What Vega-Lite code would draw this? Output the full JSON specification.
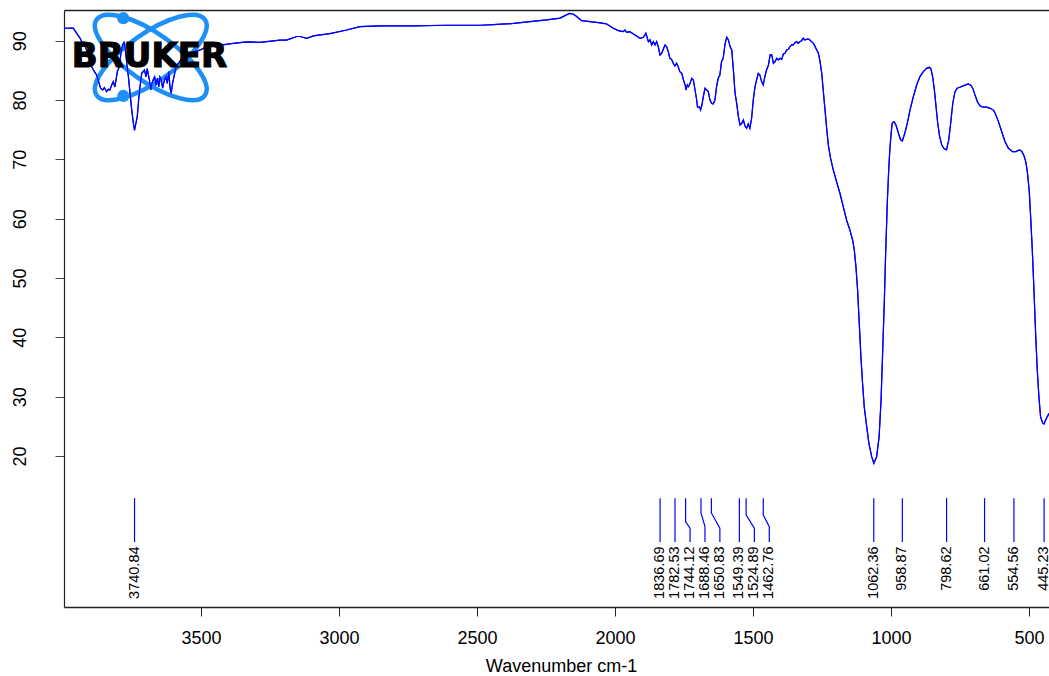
{
"$schema":"https://vega.github.io/schema/vega-lite/v6.json",
"width":985,"height":597,
"autosize":{"type":"none"},
"padding":{"left":64,"top":10,"right":0,"bottom":69},
"background":"white",
"config":{"view":{"stroke":null},"font":"Liberation Sans"},
"datasets":{
"spectrum":[
{"wn":3996,"T":92.09},{"wn":3963,"T":92.1},{"wn":3950,"T":91.24},{"wn":3938,"T":90.4},{"wn":3929,"T":89.56},{"wn":3924,"T":89.73},{"wn":3920,"T":89.0},{"wn":3914,"T":88.4},{"wn":3896,"T":85.6},{"wn":3890,"T":85.06},{"wn":3878,"T":84.2},{"wn":3869,"T":82.8},{"wn":3864,"T":81.98},{"wn":3856,"T":81.7},{"wn":3850,"T":82.1},{"wn":3842,"T":81.4},{"wn":3836,"T":81.8},{"wn":3830,"T":81.7},{"wn":3824,"T":82.5},{"wn":3818,"T":83.1},{"wn":3812,"T":82.2},{"wn":3808,"T":83.4},{"wn":3803,"T":84.8},{"wn":3796,"T":85.6},{"wn":3790,"T":87.9},{"wn":3784,"T":89.3},{"wn":3779,"T":89.7},{"wn":3774,"T":88.4},{"wn":3769,"T":86.2},{"wn":3763,"T":83.9},{"wn":3757,"T":81.1},{"wn":3751,"T":78.3},{"wn":3745,"T":76.1},{"wn":3741,"T":74.9},{"wn":3731,"T":77.2},{"wn":3726,"T":80.0},{"wn":3721,"T":82.2},{"wn":3715,"T":84.5},{"wn":3709,"T":84.8},{"wn":3705,"T":85.06},{"wn":3699,"T":83.9},{"wn":3695,"T":85.3},{"wn":3687,"T":83.4},{"wn":3682,"T":81.7},{"wn":3678,"T":82.8},{"wn":3673,"T":83.4},{"wn":3668,"T":83.9},{"wn":3663,"T":82.5},{"wn":3658,"T":83.7},{"wn":3653,"T":82.2},{"wn":3649,"T":83.9},{"wn":3644,"T":83.4},{"wn":3639,"T":82.0},{"wn":3634,"T":83.1},{"wn":3627,"T":83.9},{"wn":3622,"T":82.8},{"wn":3617,"T":84.8},{"wn":3612,"T":82.0},{"wn":3608,"T":81.1},{"wn":3603,"T":82.8},{"wn":3598,"T":83.9},{"wn":3593,"T":85.06},{"wn":3588,"T":85.9},{"wn":3581,"T":86.2},{"wn":3574,"T":86.7},{"wn":3566,"T":87.0},{"wn":3558,"T":87.3},{"wn":3552,"T":87.0},{"wn":3540,"T":87.9},{"wn":3528,"T":88.1},{"wn":3504,"T":88.4},{"wn":3480,"T":89.0},{"wn":3467,"T":89.27},{"wn":3455,"T":89.1},{"wn":3383,"T":89.56},{"wn":3334,"T":89.8},{"wn":3286,"T":89.73},{"wn":3214,"T":90.1},{"wn":3190,"T":90.1},{"wn":3153,"T":90.7},{"wn":3141,"T":90.7},{"wn":3117,"T":90.4},{"wn":3093,"T":90.8},{"wn":3033,"T":91.2},{"wn":2972,"T":91.8},{"wn":2924,"T":92.36},{"wn":2851,"T":92.5},{"wn":2731,"T":92.5},{"wn":2610,"T":92.6},{"wn":2489,"T":92.6},{"wn":2441,"T":92.7},{"wn":2368,"T":92.9},{"wn":2247,"T":93.5},{"wn":2199,"T":93.8},{"wn":2165,"T":94.6},{"wn":2152,"T":94.5},{"wn":2140,"T":94.1},{"wn":2121,"T":93.38},{"wn":2091,"T":93.21},{"wn":2060,"T":93.04},{"wn":2042,"T":92.93},{"wn":2030,"T":92.81},{"wn":2006,"T":92.08},{"wn":1988,"T":91.69},{"wn":1970,"T":91.52},{"wn":1964,"T":91.8},{"wn":1958,"T":91.41},{"wn":1946,"T":91.52},{"wn":1940,"T":91.35},{"wn":1922,"T":90.79},{"wn":1909,"T":90.4},{"wn":1897,"T":90.57},{"wn":1888,"T":91.24},{"wn":1879,"T":89.84},{"wn":1873,"T":90.12},{"wn":1867,"T":89.28},{"wn":1861,"T":89.84},{"wn":1855,"T":89.28},{"wn":1849,"T":89.84},{"wn":1843,"T":89.0},{"wn":1837,"T":87.59},{"wn":1831,"T":87.87},{"wn":1819,"T":89.28},{"wn":1813,"T":89.0},{"wn":1807,"T":88.15},{"wn":1801,"T":87.03},{"wn":1795,"T":86.86},{"wn":1789,"T":86.19},{"wn":1783,"T":85.74},{"wn":1777,"T":86.19},{"wn":1771,"T":85.62},{"wn":1765,"T":84.78},{"wn":1758,"T":84.5},{"wn":1752,"T":83.38},{"wn":1746,"T":82.53},{"wn":1743,"T":81.69},{"wn":1738,"T":82.53},{"wn":1734,"T":82.25},{"wn":1728,"T":82.81},{"wn":1722,"T":83.66},{"wn":1716,"T":83.38},{"wn":1710,"T":81.69},{"wn":1704,"T":80.0},{"wn":1701,"T":78.77},{"wn":1694,"T":78.88},{"wn":1690,"T":78.32},{"wn":1685,"T":79.16},{"wn":1680,"T":80.57},{"wn":1674,"T":81.97},{"wn":1668,"T":81.69},{"wn":1662,"T":81.41},{"wn":1656,"T":80.0},{"wn":1650,"T":79.44},{"wn":1644,"T":79.33},{"wn":1638,"T":80.0},{"wn":1632,"T":82.25},{"wn":1626,"T":83.66},{"wn":1620,"T":84.22},{"wn":1614,"T":86.47},{"wn":1608,"T":87.03},{"wn":1601,"T":89.56},{"wn":1595,"T":90.57},{"wn":1589,"T":90.12},{"wn":1583,"T":89.0},{"wn":1577,"T":88.43},{"wn":1571,"T":85.06},{"wn":1565,"T":81.13},{"wn":1559,"T":79.44},{"wn":1553,"T":77.2},{"wn":1547,"T":75.79},{"wn":1541,"T":76.07},{"wn":1535,"T":76.63},{"wn":1529,"T":75.62},{"wn":1523,"T":75.23},{"wn":1517,"T":75.96},{"wn":1511,"T":75.23},{"wn":1505,"T":76.92},{"wn":1499,"T":80.0},{"wn":1493,"T":82.14},{"wn":1487,"T":83.38},{"wn":1481,"T":84.5},{"wn":1475,"T":84.22},{"wn":1469,"T":83.1},{"wn":1463,"T":82.53},{"wn":1457,"T":83.94},{"wn":1451,"T":85.06},{"wn":1444,"T":85.9},{"wn":1438,"T":87.59},{"wn":1432,"T":87.59},{"wn":1426,"T":86.19},{"wn":1420,"T":86.47},{"wn":1414,"T":87.03},{"wn":1408,"T":86.75},{"wn":1402,"T":87.03},{"wn":1396,"T":86.86},{"wn":1390,"T":87.76},{"wn":1384,"T":87.87},{"wn":1378,"T":88.43},{"wn":1372,"T":88.54},{"wn":1366,"T":89.0},{"wn":1360,"T":89.28},{"wn":1354,"T":89.28},{"wn":1348,"T":89.67},{"wn":1342,"T":89.84},{"wn":1336,"T":89.56},{"wn":1330,"T":89.84},{"wn":1324,"T":90.0},{"wn":1318,"T":90.4},{"wn":1312,"T":90.12},{"wn":1306,"T":90.23},{"wn":1300,"T":90.3},{"wn":1294,"T":90.12},{"wn":1288,"T":89.84},{"wn":1281,"T":89.56},{"wn":1275,"T":89.0},{"wn":1269,"T":88.43},{"wn":1263,"T":87.87},{"wn":1257,"T":86.47},{"wn":1251,"T":84.5},{"wn":1245,"T":81.4},{"wn":1239,"T":78.3},{"wn":1233,"T":75.2},{"wn":1227,"T":72.4},{"wn":1219,"T":70.2},{"wn":1209,"T":68.2},{"wn":1197,"T":66.2},{"wn":1185,"T":64.28},{"wn":1173,"T":62.03},{"wn":1161,"T":59.78},{"wn":1149,"T":58.1},{"wn":1139,"T":56.41},{"wn":1133,"T":54.73},{"wn":1127,"T":51.92},{"wn":1121,"T":47.98},{"wn":1115,"T":42.37},{"wn":1109,"T":36.75},{"wn":1103,"T":32.25},{"wn":1097,"T":28.32},{"wn":1088,"T":24.95},{"wn":1080,"T":22.14},{"wn":1070,"T":19.89},{"wn":1062,"T":18.77},{"wn":1052,"T":19.89},{"wn":1043,"T":23.27},{"wn":1036,"T":29.45},{"wn":1030,"T":37.87},{"wn":1024,"T":46.3},{"wn":1019,"T":54.73},{"wn":1013,"T":63.15},{"wn":1008,"T":68.5},{"wn":1004,"T":71.8},{"wn":1001,"T":73.5},{"wn":996,"T":76.07},{"wn":989,"T":76.35},{"wn":982,"T":75.79},{"wn":973,"T":74.39},{"wn":965,"T":73.3},{"wn":959,"T":73.1},{"wn":950,"T":74.4},{"wn":941,"T":76.07},{"wn":931,"T":78.32},{"wn":919,"T":80.57},{"wn":907,"T":82.53},{"wn":895,"T":83.94},{"wn":883,"T":84.78},{"wn":871,"T":85.34},{"wn":861,"T":85.51},{"wn":855,"T":85.2},{"wn":849,"T":83.9},{"wn":843,"T":81.8},{"wn":837,"T":79.0},{"wn":831,"T":76.2},{"wn":824,"T":73.9},{"wn":816,"T":72.4},{"wn":808,"T":71.8},{"wn":799,"T":71.6},{"wn":791,"T":73.2},{"wn":784,"T":76.0},{"wn":776,"T":79.5},{"wn":768,"T":81.4},{"wn":760,"T":82.0},{"wn":748,"T":82.2},{"wn":732,"T":82.5},{"wn":720,"T":82.7},{"wn":711,"T":82.5},{"wn":704,"T":82.0},{"wn":696,"T":80.9},{"wn":687,"T":79.7},{"wn":677,"T":79.0},{"wn":666,"T":78.8},{"wn":653,"T":78.8},{"wn":641,"T":78.6},{"wn":629,"T":78.3},{"wn":623,"T":77.8},{"wn":611,"T":76.4},{"wn":599,"T":74.7},{"wn":587,"T":73.0},{"wn":575,"T":71.9},{"wn":560,"T":71.3},{"wn":547,"T":71.3},{"wn":535,"T":71.58},{"wn":527,"T":71.4},{"wn":518,"T":70.6},{"wn":511,"T":69.5},{"wn":505,"T":67.5},{"wn":499,"T":64.6},{"wn":494,"T":60.3},{"wn":488,"T":54.7},{"wn":482,"T":48.0},{"wn":476,"T":40.7},{"wn":470,"T":34.5},{"wn":464,"T":30.0},{"wn":458,"T":26.6},{"wn":450,"T":25.5},{"wn":445,"T":25.4},{"wn":442,"T":25.8},{"wn":434,"T":26.6},{"wn":427,"T":27.2}
],
"ticks":[
{"peak":"3740.84","s":0,"wn":3740.84,"y":12.9},{"peak":"3740.84","s":1,"wn":3740.84,"y":5.5},
{"peak":"1836.69","s":0,"wn":1836.69,"y":12.9},{"peak":"1836.69","s":1,"wn":1836.69,"y":5.5},
{"peak":"1782.53","s":0,"wn":1782.53,"y":12.9},{"peak":"1782.53","s":1,"wn":1782.53,"y":5.5},
{"peak":"1744.12","s":0,"wn":1744.12,"y":12.9},{"peak":"1744.12","s":1,"wn":1744.12,"y":8.9},{"peak":"1744.12","s":2,"wn":1728,"y":7.85},{"peak":"1744.12","s":3,"wn":1728,"y":5.5},
{"peak":"1688.46","s":0,"wn":1688.46,"y":12.9},{"peak":"1688.46","s":1,"wn":1688.46,"y":10.4},{"peak":"1688.46","s":2,"wn":1674,"y":8.1},{"peak":"1688.46","s":3,"wn":1674,"y":5.5},
{"peak":"1650.83","s":0,"wn":1650.83,"y":12.9},{"peak":"1650.83","s":1,"wn":1650.83,"y":10.4},{"peak":"1650.83","s":2,"wn":1620,"y":7.85},{"peak":"1650.83","s":3,"wn":1620,"y":5.5},
{"peak":"1549.39","s":0,"wn":1549.39,"y":12.9},{"peak":"1549.39","s":1,"wn":1549.39,"y":5.5},
{"peak":"1524.89","s":0,"wn":1524.89,"y":12.9},{"peak":"1524.89","s":1,"wn":1524.89,"y":10.05},{"peak":"1524.89","s":2,"wn":1495,"y":7.85},{"peak":"1524.89","s":3,"wn":1495,"y":5.5},
{"peak":"1462.76","s":0,"wn":1462.76,"y":12.9},{"peak":"1462.76","s":1,"wn":1462.76,"y":10.05},{"peak":"1462.76","s":2,"wn":1441,"y":8.1},{"peak":"1462.76","s":3,"wn":1441,"y":5.5},
{"peak":"1062.36","s":0,"wn":1062.36,"y":12.9},{"peak":"1062.36","s":1,"wn":1062.36,"y":5.5},
{"peak":"958.87","s":0,"wn":958.87,"y":12.9},{"peak":"958.87","s":1,"wn":958.87,"y":5.5},
{"peak":"798.62","s":0,"wn":798.62,"y":12.9},{"peak":"798.62","s":1,"wn":798.62,"y":5.5},
{"peak":"661.02","s":0,"wn":661.02,"y":12.9},{"peak":"661.02","s":1,"wn":661.02,"y":5.5},
{"peak":"554.56","s":0,"wn":554.56,"y":12.9},{"peak":"554.56","s":1,"wn":554.56,"y":5.5},
{"peak":"445.23","s":0,"wn":445.23,"y":12.9},{"peak":"445.23","s":1,"wn":445.23,"y":5.5}
],
"labels":[
{"label":"3740.84","pos":3740.84},{"label":"1836.69","pos":1836.69},{"label":"1782.53","pos":1782.53},{"label":"1744.12","pos":1728},{"label":"1688.46","pos":1674},{"label":"1650.83","pos":1620},{"label":"1549.39","pos":1549.39},{"label":"1524.89","pos":1495},{"label":"1462.76","pos":1441},{"label":"1062.36","pos":1062.36},{"label":"958.87","pos":958.87},{"label":"798.62","pos":798.62},{"label":"661.02","pos":661.02},{"label":"554.56","pos":554.56},{"label":"445.23","pos":445.23}
]
},
"resolve":{"axis":{"x":"independent"}},
"layer":[
{"data":{"name":"spectrum"},
 "mark":{"type":"line","color":"#0000ff","strokeWidth":1.2,"clip":true},
 "encoding":{"x":{"field":"wn","type":"quantitative","scale":{"domain":[427.5,3996.4],"reverse":true,"nice":false,"zero":false},
   "axis":{"orient":"bottom","values":[500,1000,1500,2000,2500,3000,3500],"format":"d","grid":false,"tickSize":9,"tickColor":"#222","domainColor":"#222","domainWidth":1.5,"labelFontSize":18,"labelColor":"black","labelPadding":13,"labelFlush":false,"title":"Wavenumber cm-1","titleFontSize":18,"titleFontWeight":"normal","titleColor":"black","titleX":497,"titleY":64,"titleAlign":"center","titleBaseline":"alphabetic"}},
  "y":{"field":"T","type":"quantitative","title":null,"scale":{"domain":[-5.45,95.17],"nice":false,"zero":false},
   "axis":{"values":[20,30,40,50,60,70,80,90],"grid":false,"tickSize":9,"tickColor":"#444","domainColor":"#222","domainWidth":1.2,"labelFontSize":18,"labelColor":"black","labelAngle":270,"labelAlign":"center","labelBaseline":"alphabetic","labelPadding":30,"title":null}}}},
{"data":{"values":[{"wn":3682,"T":87.17}]},
 "mark":{"type":"point","shape":"M0.966,0.677A1.179,0.4286,35,0,1,-0.966,-0.677A1.179,0.4286,35,0,1,0.966,0.677Z","size":12544,"filled":false,"stroke":"#1e8ff5","strokeWidth":4.5,"opacity":1},
 "encoding":{"x":{"field":"wn","type":"quantitative","scale":{"domain":[427.5,3996.4],"reverse":true,"nice":false,"zero":false},"axis":null},
  "y":{"field":"T","type":"quantitative","title":null,"scale":{"domain":[-5.45,95.17],"nice":false,"zero":false}}}},
{"data":{"values":[{"wn":3682,"T":87.17}]},
 "mark":{"type":"point","shape":"M0.966,-0.677A1.179,0.4286,-35,0,1,-0.966,0.677A1.179,0.4286,-35,0,1,0.966,-0.677Z","size":12544,"filled":false,"stroke":"#1e8ff5","strokeWidth":4.5,"opacity":1},
 "encoding":{"x":{"field":"wn","type":"quantitative","scale":{"domain":[427.5,3996.4],"reverse":true,"nice":false,"zero":false},"axis":null},
  "y":{"field":"T","type":"quantitative","title":null,"scale":{"domain":[-5.45,95.17],"nice":false,"zero":false}}}},
{"data":{"values":[{"wn":3781.5,"T":93.78},{"wn":3781.5,"T":80.68}]},
 "mark":{"type":"point","shape":"circle","size":150,"filled":true,"color":"#1e8ff5","opacity":1},
 "encoding":{"x":{"field":"wn","type":"quantitative","scale":{"domain":[427.5,3996.4],"reverse":true,"nice":false,"zero":false},"axis":null},
  "y":{"field":"T","type":"quantitative","title":null,"scale":{"domain":[-5.45,95.17],"nice":false,"zero":false}}}},
{"data":{"name":"spectrum"},
 "mark":{"type":"line","color":"#0000ff","strokeWidth":1.2,"clip":true},
 "encoding":{"x":{"field":"wn","type":"quantitative","scale":{"domain":[427.5,3996.4],"reverse":true,"nice":false,"zero":false},"axis":null},
  "y":{"field":"T","type":"quantitative","title":null,"scale":{"domain":[-5.45,95.17],"nice":false,"zero":false}}}},
{"data":{"name":"ticks"},
 "mark":{"type":"line","color":"#0000ff","strokeWidth":1.2},
 "encoding":{"x":{"field":"wn","type":"quantitative","scale":{"domain":[427.5,3996.4],"reverse":true,"nice":false,"zero":false},"axis":null},
  "y":{"field":"y","type":"quantitative","title":null,"scale":{"domain":[-5.45,95.17],"nice":false,"zero":false}},
  "detail":{"field":"peak"},"order":{"field":"s","type":"quantitative"}}},
{"data":{"name":"labels"},
 "mark":{"type":"text","angle":270,"align":"right","baseline":"middle","fontSize":14.5,"color":"black"},
 "encoding":{"x":{"field":"pos","type":"quantitative","scale":{"domain":[427.5,3996.4],"reverse":true,"nice":false,"zero":false},
   "axis":{"orient":"top","labels":false,"ticks":false,"domain":true,"domainColor":"#222","domainWidth":1.5,"grid":false,"title":null}},
  "y":{"datum":4.75,"type":"quantitative","title":null,"scale":{"domain":[-5.45,95.17],"nice":false,"zero":false}},
  "text":{"field":"label"}}},
{"data":{"values":[{"name":"BRUKER","wn":3686.6,"T":87.17}]},
 "mark":{"type":"text","font":"DejaVu Sans","fontWeight":"bold","fontSize":34,"align":"center","baseline":"middle","color":"black","stroke":"black","strokeWidth":1.2},
 "encoding":{"x":{"field":"wn","type":"quantitative","scale":{"domain":[427.5,3996.4],"reverse":true,"nice":false,"zero":false},"axis":null},
  "y":{"field":"T","type":"quantitative","title":null,"scale":{"domain":[-5.45,95.17],"nice":false,"zero":false}},
  "text":{"field":"name"}}}
]
}
